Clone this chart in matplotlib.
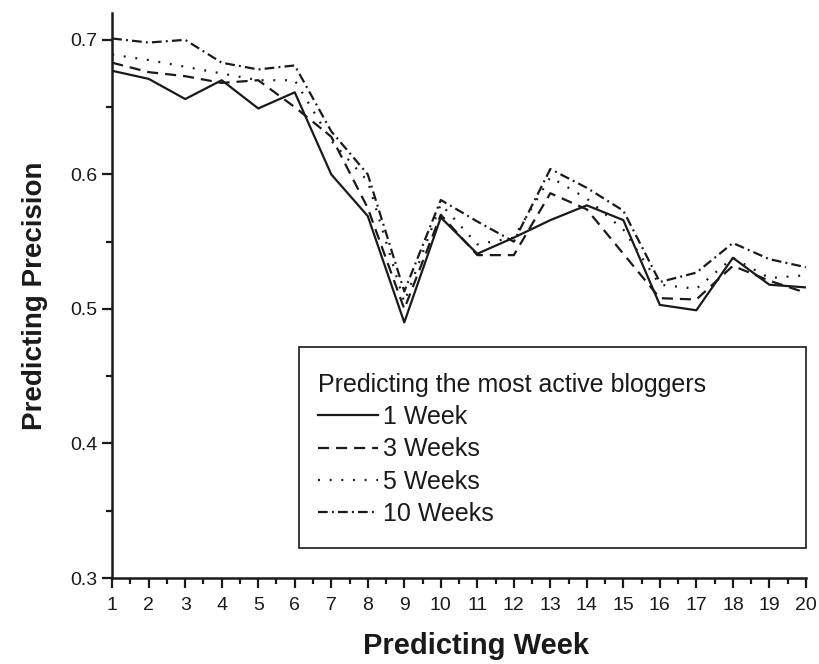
import matplotlib
matplotlib.use("Agg")
import matplotlib.pyplot as plt
from matplotlib.patches import Rectangle
from matplotlib.ticker import MultipleLocator

#-------------------------------------
# Data
weeks = list(range(1, 21))
week1 = [0.677, 0.671, 0.656, 0.670, 0.649, 0.661, 0.600, 0.569, 0.490, 0.568,
         0.541, 0.553, 0.566, 0.577, 0.566, 0.503, 0.499, 0.538, 0.518, 0.516]
week3 = [0.683, 0.676, 0.673, 0.668, 0.670, 0.650, 0.628, 0.575, 0.500, 0.570,
         0.540, 0.540, 0.586, 0.574, 0.541, 0.508, 0.507, 0.532, 0.521, 0.512]
week5 = [0.689, 0.685, 0.680, 0.675, 0.670, 0.670, 0.625, 0.595, 0.505, 0.578,
         0.548, 0.553, 0.598, 0.582, 0.559, 0.518, 0.515, 0.538, 0.523, 0.525]
week10 = [0.701, 0.698, 0.700, 0.683, 0.678, 0.681, 0.632, 0.600, 0.513, 0.581,
          0.565, 0.550, 0.604, 0.590, 0.573, 0.520, 0.527, 0.549, 0.537, 0.531]
labels = ["1 Week", "3 Weeks", "5 Weeks", "10 Weeks"]
#-------------------------------------

plt.rcParams['font.family'] = ['Liberation Sans', 'DejaVu Sans']
plt.rcParams['lines.scale_dashes'] = False
ink = '#1a1a1a'

fig = plt.figure(figsize=(8.19, 6.64), dpi=100)
ax = fig.add_axes([0.137, 0.1295, 0.847, 0.851])

styles = ['-', (0, (8, 5)), (0, (1.4, 7)), (0, (7, 3, 1.4, 3))]
for series, lab, ls in zip([week1, week3, week5, week10], labels, styles):
    ax.plot(weeks, series, color=ink, linestyle=ls, linewidth=1.6, label=lab)

ax.set_xlim(1, 20)
ax.set_ylim(0.3, 0.72)
ax.set_xticks(weeks)
ax.xaxis.set_minor_locator(MultipleLocator(0.5))
ax.set_yticks([0.3, 0.4, 0.5, 0.6, 0.7])
ax.yaxis.set_minor_locator(MultipleLocator(0.05))

for side in ['top', 'right']:
    ax.spines[side].set_visible(False)
for side in ['left', 'bottom']:
    ax.spines[side].set_linewidth(1.8)
    ax.spines[side].set_color(ink)

ax.tick_params(axis='both', which='major', direction='out', length=7, width=1.6,
               color=ink, labelsize=14, labelcolor=ink)
ax.tick_params(axis='both', which='minor', direction='out', length=4, width=1.6, color=ink)
ax.tick_params(axis='x', which='major', pad=7)

ax.set_xlabel('Predicting Week', fontsize=21, fontweight='bold', color=ink, labelpad=12)
ax.xaxis.set_label_coords(0.525, -0.095)
ax.set_ylabel('Predicting Precision', fontsize=20, fontweight='bold', color=ink, labelpad=16)

# legend frame drawn as a separate box, larger than its contents
ax.add_patch(Rectangle((0.2695, 0.053), 0.7305, 0.356, transform=ax.transAxes,
                       fill=False, edgecolor=ink, linewidth=1.2, clip_on=False))
leg = ax.legend(loc='upper left', bbox_to_anchor=(0.297, 0.363), frameon=False,
                title='Predicting the most active bloggers', title_fontsize=18,
                fontsize=18, handlelength=2.4, handletextpad=0.2,
                labelspacing=0.33, alignment='left', borderpad=0, borderaxespad=0)
for t in leg.get_texts():
    t.set_color(ink)
leg.get_title().set_color(ink)

fig.savefig('out.png', dpi=100)
